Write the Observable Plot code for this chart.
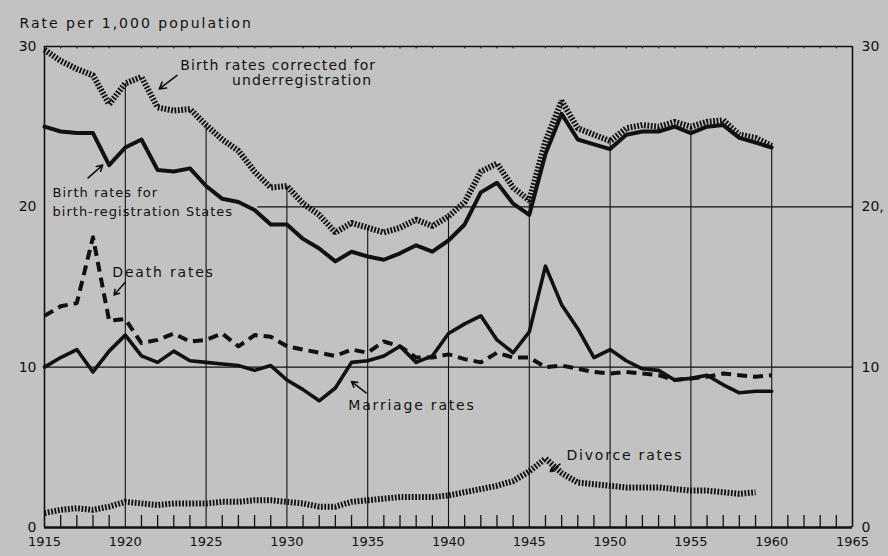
<!DOCTYPE html>
<html><head><meta charset="utf-8">
<script src="https://cdn.jsdelivr.net/npm/d3@7"></script>
<script src="https://cdn.jsdelivr.net/npm/@observablehq/plot@0.6"></script>
<style>
body{margin:0;background:#c2c2c2}
svg{display:block}
g.lab-corr text{letter-spacing:1.1px}
g.lab-reg text{letter-spacing:1px}
g.lab-other text{letter-spacing:1.8px}
g.lab-title text{letter-spacing:2px}
</style>
</head><body><div id="chart"></div>
<script>
const years = [1915,1916,1917,1918,1919,1920,1921,1922,1923,1924,1925,1926,1927,1928,1929,1930,1931,1932,1933,1934,1935,1936,1937,1938,1939,1940,1941,1942,1943,1944,1945,1946,1947,1948,1949,1950,1951,1952,1953,1954,1955,1956,1957,1958,1959,1960];
const birthCorrected = [29.8,29.1,28.6,28.2,26.4,27.7,28.1,26.2,26.0,26.1,25.1,24.2,23.5,22.2,21.2,21.3,20.2,19.5,18.4,19.0,18.7,18.4,18.7,19.2,18.8,19.4,20.3,22.2,22.7,21.2,20.4,24.1,26.6,24.9,24.5,24.1,24.9,25.1,25.0,25.3,25.0,25.3,25.4,24.5,24.3,23.8];
const birthRegistered = [25.0,24.7,24.6,24.6,22.6,23.7,24.2,22.3,22.2,22.4,21.3,20.5,20.3,19.8,18.9,18.9,18.0,17.4,16.6,17.2,16.9,16.7,17.1,17.6,17.2,17.9,18.9,20.9,21.5,20.2,19.5,23.3,25.8,24.2,23.9,23.6,24.5,24.7,24.7,25.0,24.6,25.0,25.1,24.3,24.0,23.7];
const deathRates = [13.2,13.8,14.0,18.1,12.9,13.0,11.5,11.7,12.1,11.6,11.7,12.1,11.3,12.0,11.9,11.3,11.1,10.9,10.7,11.1,10.9,11.6,11.3,10.6,10.6,10.8,10.5,10.3,10.9,10.6,10.6,10.0,10.1,9.9,9.7,9.6,9.7,9.6,9.5,9.2,9.3,9.4,9.6,9.5,9.4,9.5];
const marriageRates = [10.0,10.6,11.1,9.7,11.0,12.0,10.7,10.3,11.0,10.4,10.3,10.2,10.1,9.8,10.1,9.2,8.6,7.9,8.7,10.3,10.4,10.7,11.3,10.3,10.7,12.1,12.7,13.2,11.7,10.9,12.2,16.3,13.9,12.4,10.6,11.1,10.4,9.9,9.8,9.2,9.3,9.5,8.9,8.4,8.5,8.5];
const divorceYears = years.slice(0, 45);
const divorceRates = [0.9,1.1,1.2,1.1,1.3,1.6,1.5,1.4,1.5,1.5,1.5,1.6,1.6,1.7,1.7,1.6,1.5,1.3,1.3,1.6,1.7,1.8,1.9,1.9,1.9,2.0,2.2,2.4,2.6,2.9,3.5,4.3,3.4,2.8,2.7,2.6,2.5,2.5,2.5,2.4,2.3,2.3,2.2,2.1,2.2];

const xTicks = [1915,1920,1925,1930,1935,1940,1945,1950,1955,1960,1965];
const gridYears = [1920,1925,1930,1935,1940,1945,1950,1955,1960];
const yTicks = [0,10,20,30];
const rightLabels = ["0","10","20,","30"];
const titleText = "Rate per 1,000 population";

// annotation labels and anchor points (year, rate)
const correctedLabel = ["Birth rates corrected for","underregistration"];
const correctedYear = [1923.4,1926.6];
const correctedRate = [28.8,27.9];
const registeredLabel = ["Birth rates for","birth-registration States"];
const registeredYear = [1915.5,1915.5];
const registeredRate = [20.85,19.7];
const otherLabel = ["Death rates","Marriage rates","Divorce rates"];
const otherYear = [1919.2,1933.8,1947.3];
const otherRate = [15.9,7.6,4.5];
// arrows: from (year1, rate1) to (year2, rate2)
const arrowYear1 = [1923.2,1917.7,1920.0,1934.9,1946.9];
const arrowRate1 = [28.2,21.8,15.3,8.4,3.95];
const arrowYear2 = [1922.1,1918.6,1919.3,1934.0,1946.3];
const arrowRate2 = [27.35,22.6,14.5,9.1,3.5];

const rows = (vals, yrs = years) => yrs.map((y, i) => ({year: y, v: vals[i]}));
const lab = (t, xs, ys) => t.map((s, i) => ({t: s, x: xs[i], y: ys[i]}));
const arrows = arrowYear1.map((d, i) => ({x1: d, y1: arrowRate1[i], x2: arrowYear2[i], y2: arrowRate2[i]}));
const minorYears = d3.range(1915, 1966).filter(y => y % 5 !== 0);
const gridTop = gridYears.map(g => ({year: g, top: birthCorrected[years.indexOf(g)]}));

const ink = "#111";
const chart = Plot.plot({
  width: 888, height: 556,
  marginLeft: 44, marginRight: 36, marginTop: 46, marginBottom: 29,
  style: {background: "#c2c2c2", fontFamily: "DejaVu Sans, sans-serif", fontSize: "13px", color: ink},
  x: {domain: [1915, 1965], label: null},
  y: {domain: [0, 30], label: null},
  marks: [
    // grid
    Plot.ruleX(gridTop, {x: "year", y1: 0, y2: "top", stroke: ink, strokeWidth: 1.1}),
    Plot.ruleY([10], {x1: 1915, x2: 1965, stroke: ink, strokeWidth: 1.1}),
    Plot.ruleY([20], {x1: 1928.2, x2: 1965, stroke: ink, strokeWidth: 1.1}),
    // frame
    Plot.ruleX([1915, 1965], {y1: 0, y2: 30, stroke: ink, strokeWidth: 1.6}),
    Plot.ruleY([30], {x1: 1915, x2: 1965, stroke: ink, strokeWidth: 1.6}),
    Plot.ruleX(minorYears, {y1: 0, y2: 0.75, stroke: ink, strokeWidth: 1.3}),
    Plot.ruleX(minorYears, {y1: 30, y2: 29.85, stroke: ink, strokeWidth: 1}),
    Plot.ruleY([0], {x1: 1915, x2: 1965, stroke: ink, strokeWidth: 2.6}),
    // series
    Plot.line(rows(birthCorrected), {x: "year", y: "v", stroke: ink, strokeWidth: 6, strokeDasharray: "1.8,1.6", strokeLinecap: "butt", strokeLinejoin: "miter"}),
    Plot.line(rows(birthRegistered), {x: "year", y: "v", stroke: ink, strokeWidth: 4, strokeLinejoin: "round"}),
    Plot.line(rows(deathRates), {x: "year", y: "v", stroke: ink, strokeWidth: 4, strokeDasharray: "10,6", strokeLinecap: "butt"}),
    Plot.line(rows(marriageRates), {x: "year", y: "v", stroke: ink, strokeWidth: 3.6, strokeLinejoin: "round"}),
    Plot.line(rows(divorceRates, divorceYears), {x: "year", y: "v", stroke: ink, strokeWidth: 6, strokeDasharray: "1.8,1.6", strokeLinecap: "butt", strokeLinejoin: "miter"}),
    // annotations
    Plot.text(lab(correctedLabel, correctedYear, correctedRate), {x: "x", y: "y", text: "t", textAnchor: "start", fill: ink, fontSize: 14, className: "lab-corr"}),
    Plot.text(lab(registeredLabel, registeredYear, registeredRate), {x: "x", y: "y", text: "t", textAnchor: "start", fill: ink, fontSize: 13, className: "lab-reg"}),
    Plot.text(lab(otherLabel, otherYear, otherRate), {x: "x", y: "y", text: "t", textAnchor: "start", fill: ink, fontSize: 14, className: "lab-other"}),
    Plot.arrow(arrows, {x1: "x1", y1: "y1", x2: "x2", y2: "y2", stroke: ink, strokeWidth: 1.6, headLength: 8}),
    Plot.text([titleText], {frameAnchor: "top-left", dx: -25, dy: -28, textAnchor: "start", fill: ink, fontSize: 14, className: "lab-title"}),
    // axes
    Plot.axisY({anchor: "left", ticks: yTicks, tickSize: 0, tickPadding: 8, fontSize: 14}),
    Plot.axisY({anchor: "right", ticks: yTicks, tickSize: 0, tickPadding: 9, fontSize: 14, tickFormat: d => rightLabels[yTicks.indexOf(d)]}),
    Plot.axisX({ticks: xTicks, tickSize: 0, tickPadding: 9, fontSize: 13, tickFormat: d => String(d)})
  ]
});
document.getElementById("chart").appendChild(chart);
</script>
</body></html>
